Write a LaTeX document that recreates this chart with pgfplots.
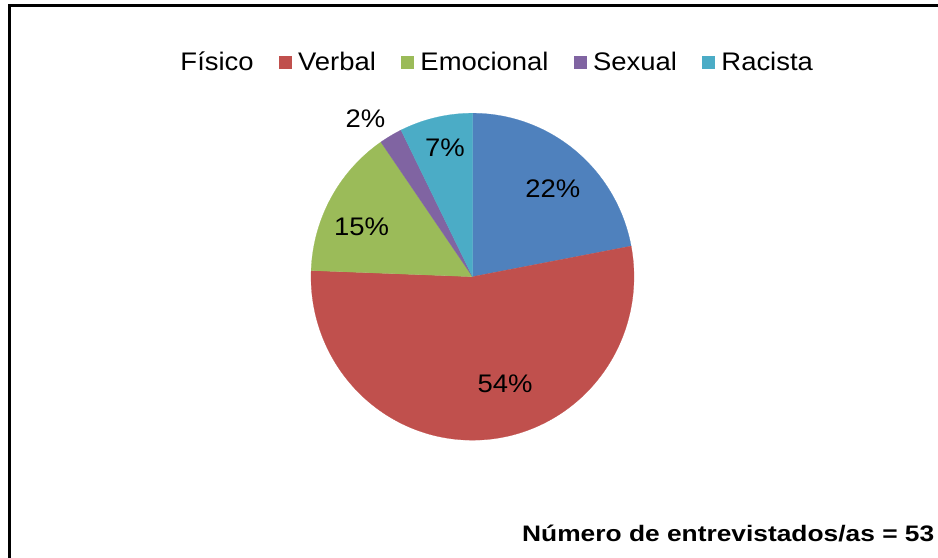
\documentclass[border=0pt]{standalone}
\usepackage{fontspec}
\setmainfont{Liberation Sans}[FakeStretch=1.08]
\newfontfamily\notefont{Liberation Sans}[FakeStretch=1.175]
\usepackage{pgfplots}
\pgfplotsset{compat=1.18}

\definecolor{fisico}{HTML}{4F81BD}
\definecolor{verbal}{HTML}{C0504D}
\definecolor{emocional}{HTML}{9BBB59}
\definecolor{sexual}{HTML}{8064A2}
\definecolor{racista}{HTML}{4BACC6}

% slices run clockwise from 12 o'clock
\newcommand\startang{90}
\newcommand\slice[3]{% share in %, colour, extra options
  \pgfmathsetmacro\angB{\startang-3.6*#1}%
  \edef\doslice{\noexpand\addplot[fill=#2, draw=#2, line width=0.2pt,
    domain=\angB:\startang, samples=120, #3]
    ({cos(x)},{sin(x)}) -- (axis cs:0,0) -- cycle;}%
  \doslice
  \xdef\startang{\angB}%
}

\begin{document}
\begin{tikzpicture}
\path[use as bounding box] (0,0) rectangle (938bp,558bp);
\clip (0,0) rectangle (938bp,558bp);

% chart frame (only left and top edges are in view)
\draw[line width=3bp] (9.5bp,-5bp) -- (9.5bp,552.5bp) -- (945bp,552.5bp);

\begin{axis}[
  at={(472.5bp,281.3bp)}, anchor=center,
  width=323bp, height=327bp, scale only axis,
  xmin=-1, xmax=1, ymin=-1, ymax=1,
  hide axis, clip=false,
  font=\fontsize{25.5}{30}\selectfont,
  legend columns=-1,
  legend image code/.code={\fill[#1] (0bp,-6bp) rectangle (12bp,6bp);},
  legend style={
    at={(-0.4257,1.1566)}, anchor=west,
    draw=none, fill=none, inner sep=0pt,
    font=\fontsize{25.5}{30}\selectfont,
    nodes={inner sep=0pt},
    /tikz/every odd column/.append style={column sep=6.8bp},
    /tikz/every even column/.append style={column sep=25.5bp},
  },
]
\slice{22.0}{fisico}{legend image code/.code={}}
\slice{53.6}{verbal}{}
\slice{14.8}{emocional}{}
\slice{2.3}{sexual}{}
\slice{7.3}{racista}{}
\legend{Físico, Verbal, Emocional, Sexual, Racista}

\node at (axis cs:0.498,0.536) {22\%};
\node at (axis cs:0.201,-0.656) {54\%};
\node at (axis cs:-0.687,0.304) {15\%};
\node at (axis cs:-0.170,0.787) {7\%};
\node at (axis cs:-0.663,0.965) {2\%};
\end{axis}

\node[anchor=base west, inner sep=0pt, font=\notefont\bfseries\fontsize{22.5}{27}\selectfont]
  at (522bp,16.3bp) {Número de entrevistados/as = 53};
\end{tikzpicture}
\end{document}
